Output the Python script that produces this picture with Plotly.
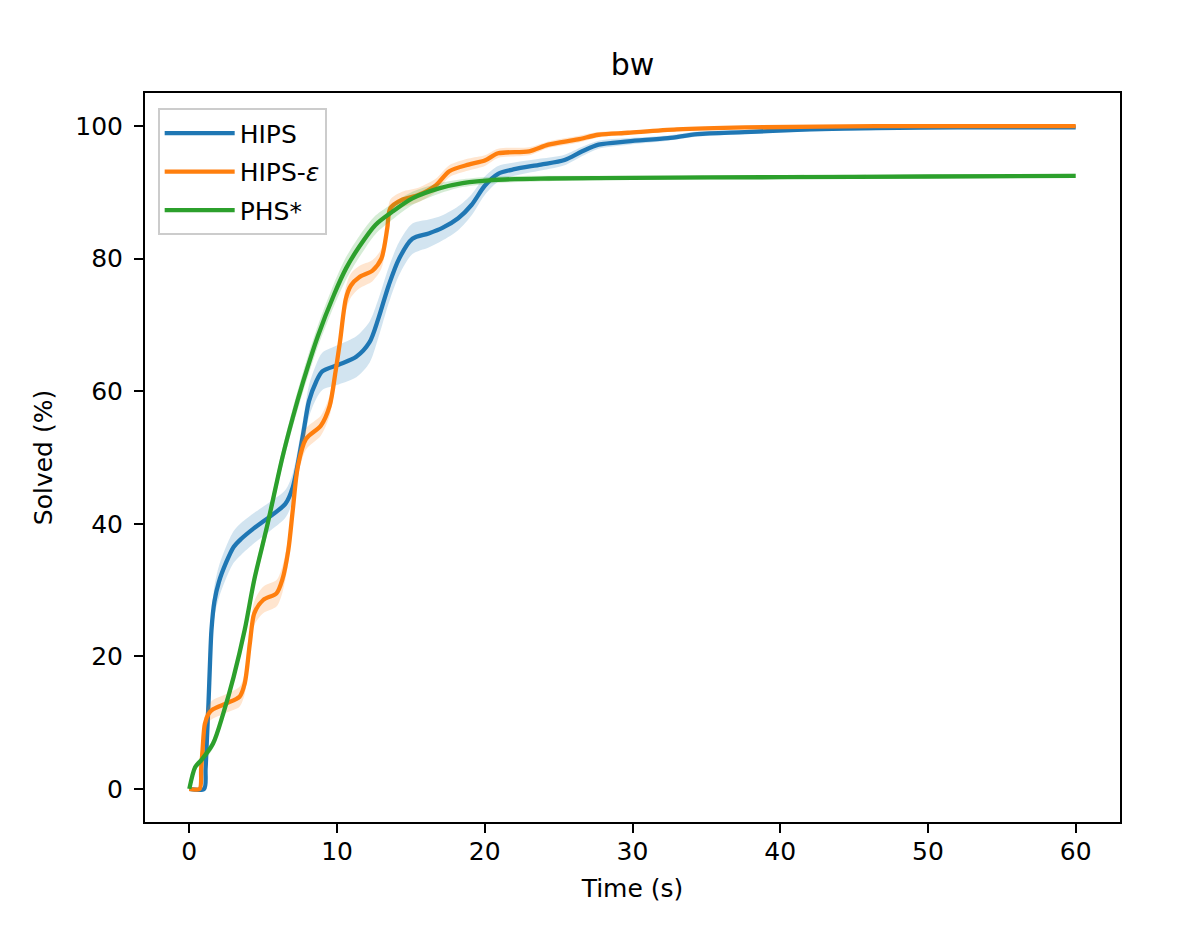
import plotly.graph_objects as go

# ----------------------------
# data (bw)
# ----------------------------
t_hips = [0, 1.0, 1.1, 1.2, 1.3, 1.4, 1.5, 1.7, 2.0, 2.5,
          3.0, 3.5, 4.3, 5.4, 6.5, 7.0, 7.7, 8.1, 8.6, 9.0,
          10.1, 11.3, 12.2, 12.8, 13.5, 14.2, 15.1, 16.2, 17.1, 18.2,
          19.1, 20.0, 20.9, 22.0, 23.8, 25.4, 26.6, 27.7, 29.7, 32.4,
          34.4, 37.6, 42.0, 46.5, 52.0, 60.0]
v_hips = [0, 0, 3, 8, 13, 19, 24, 28.3, 31.2, 34.2,
          36.5, 37.7, 39.2, 41.0, 43.0, 45.5, 53.5, 58.5, 61.5, 63.0,
          64.0, 65.2, 67.4, 71.0, 76.0, 80.0, 83.0, 83.8, 84.6, 86.1,
          88.1, 91.0, 92.8, 93.5, 94.2, 94.9, 96.2, 97.2, 97.7, 98.2,
          98.8, 99.1, 99.5, 99.7, 99.8, 99.8]
e_hips = [0, 0, 1.0, 1.4, 1.8, 2.0, 2.2, 2.3, 2.4, 2.4,
          2.4, 2.4, 2.3, 2.2, 2.1, 2.1, 2.2, 2.4, 2.6, 2.8,
          3.0, 3.1, 3.1, 2.9, 2.7, 2.5, 2.3, 2.1, 1.9, 1.8,
          1.6, 1.4, 1.2, 1.0, 0.9, 0.8, 0.7, 0.6, 0.5, 0.4,
          0.4, 0.3, 0.3, 0.3, 0.2, 0.2]

t_eps = [0, 0.7, 0.8, 0.9, 1.05, 1.3, 1.6, 2.5, 3.4, 3.75,
         4.1, 4.4, 5.0, 5.9, 6.3, 6.7, 7.0, 7.35, 7.9, 8.9,
         9.5, 9.9, 10.2, 10.6, 10.95, 11.5, 12.4, 13.0, 13.4, 13.6,
         14.4, 15.5, 16.7, 17.6, 18.9, 20.0, 20.9, 23.0, 24.3, 26.3,
         27.7, 29.7, 33.0, 37.6, 46.5, 60.0]
v_eps = [0, 0, 3, 6, 9.8, 11.3, 12.0, 12.9, 13.9, 15.9,
         22.0, 26.5, 28.5, 29.5, 31.6, 36.0, 42.0, 48.7, 52.8, 54.8,
         57.8, 63.0, 67.5, 74.0, 76.0, 77.2, 78.2, 80.0, 84.6, 87.6,
         88.9, 89.6, 91.1, 93.2, 94.2, 94.8, 95.9, 96.2, 97.2, 98.0,
         98.7, 99.0, 99.5, 99.8, 100.0, 100.0]
e_eps = [0, 0, 0.7, 1.0, 1.2, 1.3, 1.4, 1.4, 1.5, 1.6,
         1.7, 1.8, 2.0, 2.0, 2.0, 1.9, 1.8, 1.7, 1.6, 1.5,
         1.5, 1.6, 1.7, 1.8, 1.8, 1.7, 1.6, 1.5, 1.4, 1.3,
         1.2, 1.1, 1.0, 0.9, 0.9, 0.8, 0.7, 0.6, 0.5, 0.5,
         0.4, 0.3, 0.3, 0.2, 0.2, 0.2]

t_phs = [0, 0.4, 0.8, 1.6, 2.3, 3.0, 3.75, 4.4, 5.25, 6.3,
         7.0, 7.7, 8.7, 9.8, 10.6, 11.5, 12.6, 13.75, 15.1, 16.9,
         18.5, 20.7, 24.3, 30.0, 40.0, 50.0, 60.0]
v_phs = [0, 3.3, 4.3, 6.8, 11.4, 16.9, 24.0, 31.6, 39.5, 50.0,
         56.0, 61.4, 68.3, 74.6, 78.5, 81.8, 85.1, 87.1, 89.1, 90.6,
         91.4, 91.9, 92.1, 92.2, 92.3, 92.4, 92.5]
e_phs = [0, 0.5, 0.6, 0.7, 0.8, 0.9, 1.0, 1.1, 1.2, 1.3,
         1.4, 1.5, 1.6, 1.7, 1.7, 1.6, 1.4, 1.2, 1.0, 0.8,
         0.6, 0.5, 0.4, 0.3, 0.3, 0.3, 0.3]

series = [
    ("HIPS", t_hips, v_hips, e_hips, "#1f77b4", "rgba(31,119,180,0.2)"),
    ("HIPS-<i>ε</i>", t_eps, v_eps, e_eps, "#ff7f0e", "rgba(255,127,14,0.2)"),
    ("PHS*", t_phs, v_phs, e_phs, "#2ca02c", "rgba(44,160,44,0.2)"),
]

FONT = "DejaVu Sans"
LINE = dict(shape="spline", smoothing=0.8)

fig = go.Figure()

for name, t, v, e, col, fill in series:
    lo = [a - b for a, b in zip(v, e)]
    hi = [a + b for a, b in zip(v, e)]
    fig.add_trace(go.Scatter(x=t, y=lo, mode="lines", line=dict(width=0, **LINE),
                             legendgroup=name, showlegend=False, hoverinfo="skip"))
    fig.add_trace(go.Scatter(x=t, y=hi, mode="lines", line=dict(width=0, **LINE),
                             fill="tonexty", fillcolor=fill, legendgroup=name,
                             showlegend=False, hoverinfo="skip"))
    fig.add_trace(go.Scatter(x=t, y=v, mode="lines", name=name, legendgroup=name,
                             line=dict(color=col, width=4.3, **LINE)))

axis_common = dict(
    showgrid=False, zeroline=False,
    showline=True, linecolor="black", linewidth=2, mirror=True,
    ticks="outside", ticklen=9, tickwidth=2, tickcolor="black",
    tickfont=dict(family=FONT, size=25, color="black"),
)

fig.update_xaxes(range=[-3, 63], tickvals=[0, 10, 20, 30, 40, 50, 60],
                 title=dict(text="Time (s)", font=dict(family=FONT, size=25, color="black"),
                            standoff=14),
                 ticklabelstandoff=-3, **axis_common)
fig.update_yaxes(range=[-5, 105], tickvals=[0, 20, 40, 60, 80, 100],
                 title=dict(text="Solved (%)", font=dict(family=FONT, size=25, color="black"),
                            standoff=16),
                 ticklabelstandoff=6, **axis_common)

fig.update_layout(
    width=1196, height=925,
    margin=dict(l=137, r=84, t=85, b=111),
    paper_bgcolor="white", plot_bgcolor="white",
    font=dict(family=FONT, size=25, color="black"),
    title=dict(text="bw", x=0.5, xref="paper", y=1 - 56 / 925, yref="container",
               yanchor="middle", font=dict(family=FONT, size=30, color="black")),
    legend=dict(x=0.013, y=0.979, xanchor="left", yanchor="top",
                bgcolor="rgba(255,255,255,0.8)", bordercolor="#cccccc", borderwidth=2,
                font=dict(family=FONT, size=25, color="black"),
                traceorder="grouped", tracegroupgap=3, itemwidth=70),
    showlegend=True,
)

fig.write_html("out.html")
